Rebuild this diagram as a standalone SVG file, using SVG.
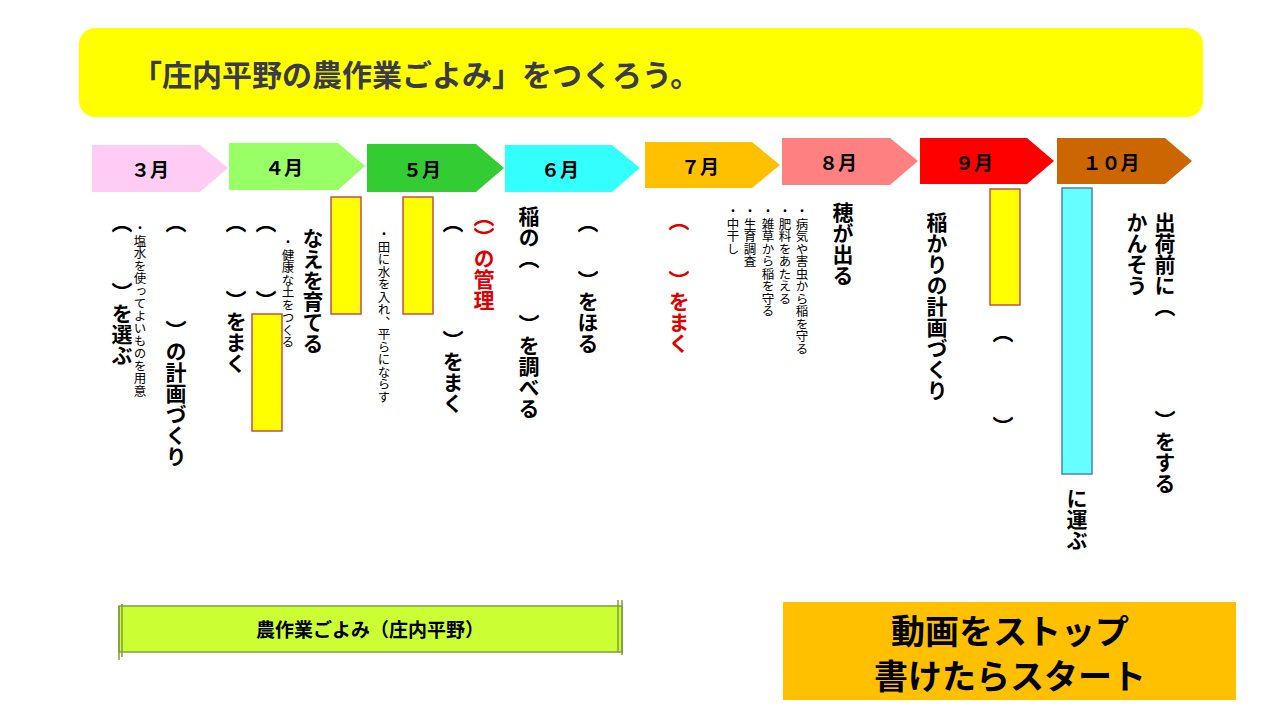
<svg xmlns="http://www.w3.org/2000/svg" width="1280" height="720" viewBox="0 0 1280 720">
<style>
text{font-family:"Noto Sans CJK JP","Noto Sans",sans-serif;fill:#000}
.v{writing-mode:vertical-rl;glyph-orientation-vertical:0}
.b{font-size:21px;font-weight:bold}
.s{font-size:12.5px}
.r{fill:#e00000}
.m{font-size:19px;font-weight:bold;text-anchor:middle}
.y{fill:#ffff00;stroke:#c0504d;stroke-width:1.5}
</style>
<rect width="1280" height="720" fill="#fff"/>
<g id="title"><rect x="79" y="28" width="1124" height="89" rx="16" fill="#ffff00"/>
<text x="132" y="86" font-size="30" font-weight="bold" style="fill:#3a3a4a">「庄内平野の農作業ごよみ」をつくろう。</text></g>
<g id="months">
<path d="M92 145H200L228 168L200 192H92Z" fill="#ffccf5"/><text class="m" x="150" y="177">３月</text>
<path d="M229 143H338L365 166L338 190H229Z" fill="#99ff66"/><text class="m" x="284" y="175">４月</text>
<path d="M367 144H476L504 168L476 192H367Z" fill="#33cc33"/><text class="m" x="422" y="177">５月</text>
<path d="M505 145H612L640 168L612 192H505Z" fill="#33ffff"/><text class="m" x="560" y="177">６月</text>
<path d="M645 142H752L780 165L752 188H645Z" fill="#ffc000"/><text class="m" x="700" y="174">７月</text>
<path d="M782 138H890L918 161L890 185H782Z" fill="#ff8080"/><text class="m" x="838" y="170">８月</text>
<path d="M920 138H1027L1054 161L1027 184H920Z" fill="#ff0000"/><text class="m" x="974" y="170">９月</text>
<path d="M1057 138H1165L1192 161L1165 184H1057Z" fill="#cc6600"/><text class="m" x="1111" y="170">１０月</text>
</g>
<g id="boxes">
<rect class="y" x="331" y="197" width="30" height="117"/>
<rect class="y" x="252" y="314" width="30" height="117"/>
<rect class="y" x="403" y="197" width="30" height="117"/>
<rect class="y" x="990" y="189" width="30" height="116"/>
<rect x="1062" y="188" width="30" height="286" fill="#66ffff" stroke="#4f81bd" stroke-width="1.5"/>
</g>
<g id="texts">
<text class="v b" x="122" y="212">（</text><text class="v b" x="122" y="282">）を選ぶ</text>
<text class="v s" x="140" y="222">・塩水を使ってよいものを用意</text>
<text class="v b" x="176" y="212">（</text><text class="v b" x="176" y="320">）の計画づくり</text>
<text class="v b" x="236" y="212">（</text><text class="v b" x="236" y="290">）をまく</text>
<text class="v b" x="266" y="212">（</text><text class="v b" x="266" y="290">）</text>
<text class="v s" x="288" y="236">・健康な土をつくる</text>
<text class="v b" x="313" y="228" font-size="22">なえを育てる</text>
<text class="v s" x="384" y="228">・田に水を入れ、平らにならす</text>
<text class="v b" x="453" y="212">（</text><text class="v b" x="453" y="330">）をまく</text>
<text class="v b r" x="484" y="206">（）の管理</text>
<text class="v b" x="529" y="206">稲の（</text><text class="v b" x="529" y="314">）を調べる</text>
<text class="v b" x="588" y="212">（</text><text class="v b" x="588" y="270">）をほる</text>
<text class="v b r" x="679" y="210">（</text><text class="v b r" x="679" y="270">）をまく</text>
<text class="v s" x="802" y="205">・病気や害虫から稲を守る</text>
<text class="v s" x="785" y="205">・肥料をあたえる</text>
<text class="v s" x="768" y="205">・雑草から稲を守る</text>
<text class="v s" x="750" y="205">・生育調査</text>
<text class="v s" x="733" y="205">・中干し</text>
<text class="v b" x="843" y="202">穂が出る</text>
<text class="v b" x="937" y="212">稲かりの計画づくり</text>
<text class="v b" x="1003" y="322">（</text><text class="v b" x="1003" y="416">）</text>
<text class="v b" x="1165" y="212">出荷前に（</text><text class="v b" x="1165" y="410">）をする</text>
<text class="v b" x="1137" y="212">かんそう</text>
<text class="v b" x="1077" y="488">に運ぶ</text>
</g>
<g id="scroll">
<path d="M119 606H622V652H119Z" fill="#ccff33" stroke="#7f9f3f" stroke-width="1.5"/>
<path d="M119 606V660M122 604V657M618 600V652M622 600V655" stroke="#7f9f3f" stroke-width="1.5" fill="none"/>
<text x="370" y="637" font-size="19" font-weight="bold" text-anchor="middle">農作業ごよみ（庄内平野）</text>
</g>
<g id="note"><rect x="783" y="602" width="453" height="98" fill="#ffc000"/>
<text x="1010" y="644" font-size="34" font-weight="bold" text-anchor="middle">動画をストップ</text>
<text x="1010" y="689" font-size="34" font-weight="bold" text-anchor="middle">書けたらスタート</text></g>
</svg>
